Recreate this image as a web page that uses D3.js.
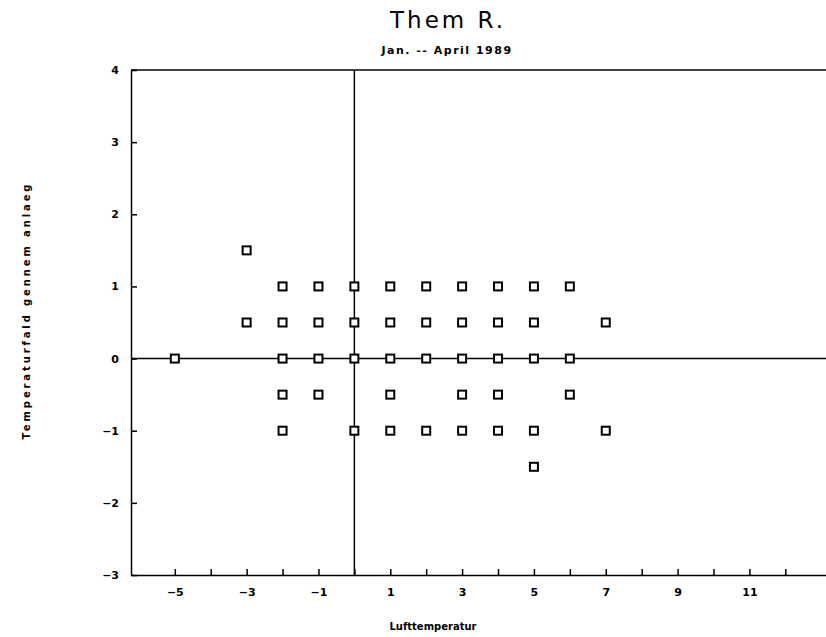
<!DOCTYPE html>
<html>
<head>
<meta charset="utf-8">
<script src="https://cdn.jsdelivr.net/npm/d3@7"></script>
<style>
  body { margin: 0; background: #fff; }
  svg { display: block; }
  .tick text { font-family: "DejaVu Sans", sans-serif; font-weight: bold; font-size: 11px; fill: #000; }
  .tick line, .domain { stroke: #000; stroke-width: 1.5; }
</style>
</head>
<body>
<div id="chart"></div>
<script>
// Lufttemperatur (x) vs. Temperaturfald gennem anlaeg (y)
const pointX = [-5, -3, -3, -2, -2, -2, -2, -2, -1, -1, -1, -1, 0, 0, 0, 0,
  1, 1, 1, 1, 1, 2, 2, 2, 2, 3, 3, 3, 3, 3, 4, 4, 4, 4, 4, 5, 5, 5, 5, 5, 6, 6, 6, 7, 7];
const pointY = [0, 1.5, 0.5, 1, 0.5, 0, -0.5, -1, 1, 0.5, 0, -0.5, 1, 0.5, 0, -1,
  1, 0.5, 0, -0.5, -1, 1, 0.5, 0, -1, 1, 0.5, 0, -0.5, -1, 1, 0.5, 0, -0.5, -1,
  1, 0.5, 0, -1, -1.5, 1, 0, -0.5, 0.5, -1];

const xTicks = d3.range(-5, 13);           // tick marks every degree
const xLabels = [-5, -3, -1, 1, 3, 5, 7, 9, 11];
const yTicks = [-3, -2, -1, 0, 1, 2, 3, 4];

const title = "Them R.";
const subtitle = "Jan. -- April 1989";
const xTitle = "Lufttemperatur";
const yTitle = "Temperaturfald gennem anlaeg";

const width = 826, height = 637;
const plotLeft = 131, plotTop = 70, plotBottom = 575, plotRight = 832;

const svg = d3.select("#chart").append("svg")
  .attr("width", width).attr("height", height);

const x = d3.scaleLinear().domain([-6.22, 13.3]).range([plotLeft, plotRight]);
const y = d3.scaleLinear().domain([-3, 4]).range([plotBottom, plotTop]);

const fmt = d3.format("d");

// axes, ticks point inwards
svg.append("g")
  .attr("transform", `translate(0,${plotBottom})`)
  .call(d3.axisBottom(x)
    .tickValues(xTicks)
    .tickSize(-6)
    .tickSizeOuter(0)
    .tickPadding(13)
    .tickFormat(d => xLabels.includes(d) ? fmt(d) : ""));

svg.append("g")
  .attr("transform", `translate(${plotLeft},0)`)
  .call(d3.axisLeft(y)
    .tickValues(yTicks)
    .tickSize(-6)
    .tickSizeOuter(0)
    .tickPadding(12)
    .tickFormat(fmt));

// top frame line
svg.append("line")
  .attr("x1", plotLeft).attr("x2", plotRight)
  .attr("y1", plotTop).attr("y2", plotTop)
  .attr("stroke", "#000").attr("stroke-width", 1.5);

// zero reference lines
svg.append("line")
  .attr("x1", plotLeft).attr("x2", plotRight)
  .attr("y1", y(0)).attr("y2", y(0))
  .attr("stroke", "#000").attr("stroke-width", 1.5);
svg.append("line")
  .attr("x1", x(0)).attr("x2", x(0))
  .attr("y1", plotTop).attr("y2", plotBottom)
  .attr("stroke", "#000").attr("stroke-width", 1.5);

// hollow square markers
const s = 8;
svg.append("g")
  .selectAll("rect")
  .data(d3.zip(pointX, pointY))
  .join("rect")
  .attr("x", d => x(d[0]) - s / 2)
  .attr("y", d => y(d[1]) - s / 2)
  .attr("width", s).attr("height", s)
  .attr("fill", "#fff")
  .attr("stroke", "#000")
  .attr("stroke-width", 2);

// titles
svg.append("text")
  .attr("x", 448).attr("y", 28)
  .attr("text-anchor", "middle")
  .attr("fill", "#000")
  .style("font-family", "'DejaVu Sans', sans-serif")
  .style("font-size", "23px")
  .style("letter-spacing", "3px")
  .text(title);

svg.append("text")
  .attr("x", 447).attr("y", 54)
  .attr("text-anchor", "middle")
  .attr("fill", "#000")
  .style("font-family", "'DejaVu Sans', sans-serif")
  .style("font-size", "11px")
  .style("font-weight", "bold")
  .style("letter-spacing", "1.5px")
  .text(subtitle);

svg.append("text")
  .attr("x", 433).attr("y", 630)
  .attr("text-anchor", "middle")
  .attr("fill", "#000")
  .style("font-family", "'DejaVu Sans', sans-serif")
  .style("font-size", "10px")
  .style("font-weight", "bold")
  .text(xTitle);

svg.append("text")
  .attr("transform", "translate(30,312) rotate(-90)")
  .attr("text-anchor", "middle")
  .attr("textLength", 255)
  .attr("fill", "#000")
  .style("font-family", "'DejaVu Sans', sans-serif")
  .style("font-size", "10px")
  .style("font-weight", "bold")
  .text(yTitle);
</script>
</body>
</html>
